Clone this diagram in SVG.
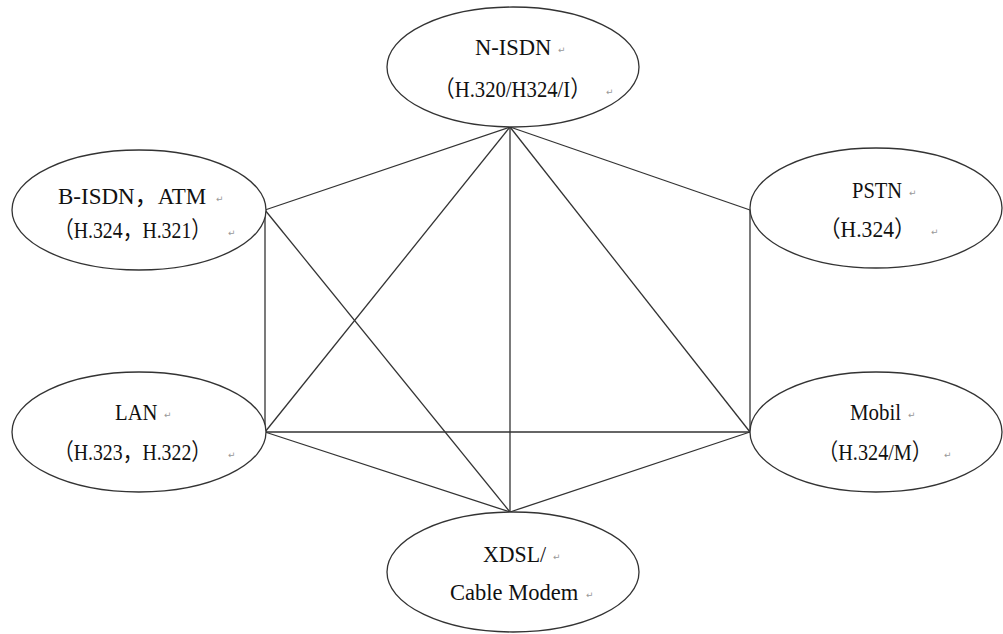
<svg xmlns="http://www.w3.org/2000/svg" width="1003" height="634" viewBox="0 0 1003 634">
  <style>
    .edge { stroke: #333; stroke-width: 1.3; fill: none; }
    .node { stroke: #333; stroke-width: 1.3; fill: #fff; }
    .lbl { font-family: "Liberation Serif", "Noto Sans CJK SC", serif; font-size: 23px; fill: #111; }
    .mk { font-family: "DejaVu Sans", sans-serif; font-size: 9px; fill: #999; }
  </style>
  <rect width="1003" height="634" fill="#fff"/>
  <g id="connectors">
    <line class="edge" x1="510" y1="127" x2="265" y2="210"/>
    <line class="edge" x1="510" y1="127" x2="750" y2="210"/>
    <line class="edge" x1="510" y1="127" x2="265" y2="432"/>
    <line class="edge" x1="510" y1="127" x2="750" y2="432"/>
    <line class="edge" x1="510" y1="127" x2="510" y2="512"/>
    <line class="edge" x1="265" y1="210" x2="265" y2="432"/>
    <line class="edge" x1="265" y1="210" x2="510" y2="512"/>
    <line class="edge" x1="750" y1="210" x2="750" y2="432"/>
    <line class="edge" x1="265" y1="432" x2="750" y2="432"/>
    <line class="edge" x1="265" y1="432" x2="510" y2="512"/>
    <line class="edge" x1="750" y1="432" x2="510" y2="512"/>
  </g>
  <!-- labels are narrowed horizontally with scale() so the serif face keeps its height -->
  <g id="n-isdn">
    <ellipse class="node" cx="513" cy="67" rx="126" ry="60"/>
    <text class="lbl" transform="translate(475,55) scale(0.98,1)">N-ISDN</text>
    <text class="mk" x="558" y="53">↵</text>
    <text class="lbl" transform="translate(434,97) scale(0.9,1)">（H.320/H324/I）</text>
    <text class="mk" x="606" y="95">↵</text>
  </g>
  <g id="b-isdn">
    <ellipse class="node" cx="139" cy="210" rx="127" ry="60"/>
    <text class="lbl" transform="translate(58,204)">B-ISDN，ATM</text>
    <text class="mk" x="216" y="202">↵</text>
    <text class="lbl" transform="translate(54,238) scale(0.86,1)">（H.324，H.321）</text>
    <text class="mk" x="228" y="236">↵</text>
  </g>
  <g id="pstn">
    <ellipse class="node" cx="876" cy="208" rx="126" ry="60"/>
    <text class="lbl" transform="translate(852,198) scale(0.89,1)">PSTN</text>
    <text class="mk" x="909" y="196">↵</text>
    <text class="lbl" transform="translate(819,237) scale(0.94,1)">（H.324）</text>
    <text class="mk" x="931" y="235">↵</text>
  </g>
  <g id="lan">
    <ellipse class="node" cx="139" cy="432" rx="127" ry="60"/>
    <text class="lbl" transform="translate(115,420) scale(0.9,1)">LAN</text>
    <text class="mk" x="164" y="418">↵</text>
    <text class="lbl" transform="translate(54,460) scale(0.86,1)">（H.323，H.322）</text>
    <text class="mk" x="228" y="458">↵</text>
  </g>
  <g id="mobil">
    <ellipse class="node" cx="876" cy="432" rx="126" ry="60"/>
    <text class="lbl" transform="translate(850,420) scale(0.91,1)">Mobil</text>
    <text class="mk" x="908" y="418">↵</text>
    <text class="lbl" transform="translate(818,460) scale(0.88,1)">（H.324/M）</text>
    <text class="mk" x="944" y="458">↵</text>
  </g>
  <g id="xdsl">
    <ellipse class="node" cx="513" cy="572" rx="126" ry="60"/>
    <text class="lbl" transform="translate(483,562) scale(0.95,1)">XDSL/</text>
    <text class="mk" x="553" y="560">↵</text>
    <text class="lbl" transform="translate(450,600) scale(0.98,1)">Cable Modem</text>
    <text class="mk" x="586" y="598">↵</text>
  </g>
</svg>
